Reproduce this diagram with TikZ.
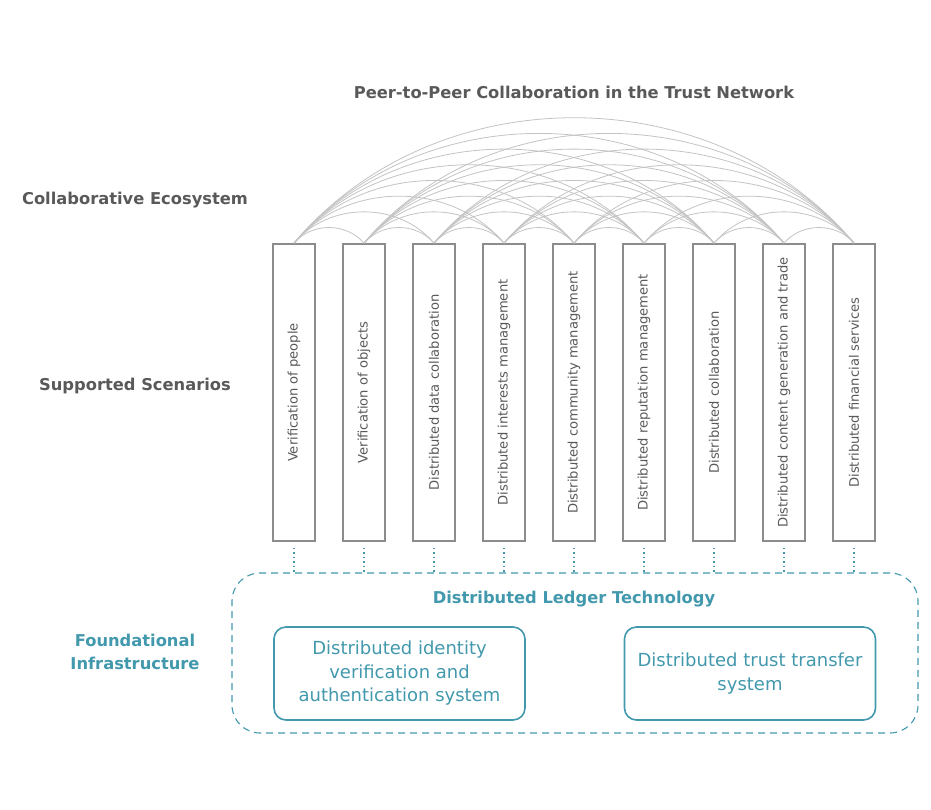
\documentclass[tikz,border=0pt]{standalone}
\usepackage{fontspec}
\setmainfont{DejaVu Sans}
\definecolor{txtgray}{RGB}{89,89,89}
\definecolor{teal1}{RGB}{66,152,172}
\definecolor{boxgray}{RGB}{140,140,140}
\definecolor{arcgray}{RGB}{195,195,195}
\tikzset{
  scen/.style={draw=boxgray, line width=1.6pt, minimum width=42pt, minimum height=297pt, inner sep=0pt},
  scentext/.style={rotate=90, font=\fontsize{13.1}{15}\selectfont, text=txtgray},
  arcline/.style={draw=arcgray, line width=0.8pt},
  sidelabel/.style={font=\fontsize{16.3}{23}\selectfont\bfseries, text=txtgray, align=center},
  tealhead/.style={font=\fontsize{16.3}{23}\selectfont\bfseries, text=teal1, align=center},
  dltbox/.style={draw=teal1, dash pattern=on 7pt off 5pt, line width=1.1pt, rounded corners=28pt, minimum width=686pt, minimum height=160pt},
  sysbox/.style={draw=teal1, line width=1.6pt, rounded corners=12pt, minimum width=251pt, minimum height=93pt, align=center, text=teal1, font=\fontsize{18}{23.5}\selectfont},
  dotline/.style={draw=teal1, line width=1.3pt, dash pattern=on 1.3pt off 3.2pt},
}
\begin{document}
\begin{tikzpicture}[x=1pt,y=-1pt]
\useasboundingbox (0,0) rectangle (931,809);
% titles
\node[sidelabel] (title) at (574,92) {Peer-to-Peer Collaboration in the Trust Network};
\node[sidelabel] (eco) at (135,200) {Collaborative Ecosystem};
\node[sidelabel] (sup) at (135,386) {Supported Scenarios};
\node[tealhead] (found) at (135,652) {Foundational\\Infrastructure};
% scenario boxes
\foreach \i/\t in {1/Verification of people,2/Verification of objects,3/Distributed data collaboration,4/Distributed interests management,5/Distributed community management,6/Distributed reputation management,7/Distributed collaboration,8/Distributed content generation and trade,9/Distributed financial services}{
  \node[scen] (s\i) at ({294+70*(\i-1)},392.5) {};
  \node[scentext] (t\i) at (s\i.center) {\t};
}
% arcs
\foreach \i in {1,...,8}{
  \pgfmathtruncatemacro{\ni}{\i+1}
  \foreach \j in {\ni,...,9}{
    \draw[arcline] (s\i.north) to[bend left=50] (s\j.north);
  }
}
% ledger
\node[dltbox] (dlt) at (575,653) {};
\node[tealhead] (dlttitle) at (574,599) {Distributed Ledger Technology};
\node[sysbox] (ident) at (399.5,673.5) {Distributed identity\\verification and\\authentication system};
\node[sysbox] (trust) at (750,673.5) {Distributed trust transfer\\system};
\foreach \i in {1,...,9}{
  \draw[dotline, shorten <=6pt] (s\i.south) -- (s\i.south |- dlt.north);
}
\end{tikzpicture}
\end{document}
